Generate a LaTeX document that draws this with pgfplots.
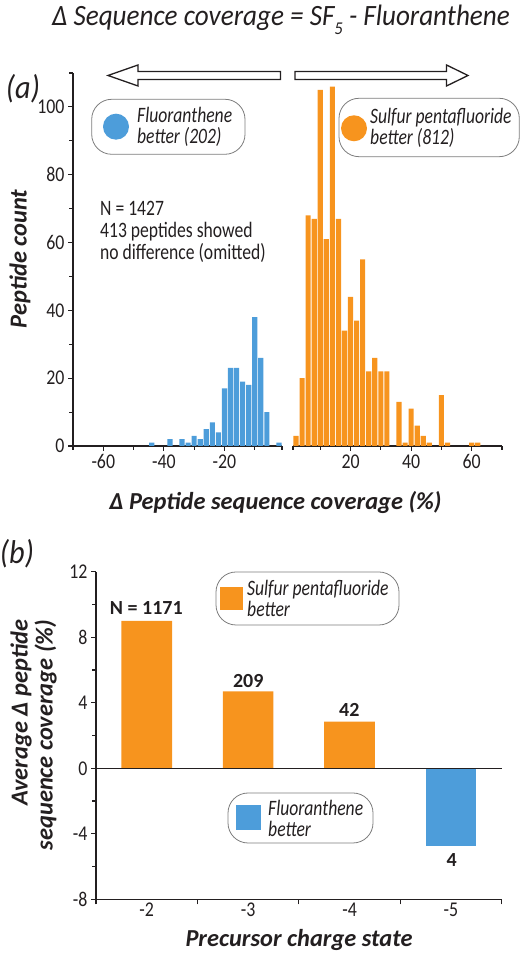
\documentclass[border=0pt]{standalone}
\usepackage{fontspec}
\setmainfont{Carlito}
\newfontfamily\condfont{Carlito}[FakeStretch=0.8]
\newfontfamily\tickfont{Carlito}[FakeStretch=0.85]
\newfontfamily\titlefont{Carlito}[FakeStretch=0.92]
\usepackage{pgfplots}
\pgfplotsset{compat=1.18}
\definecolor{cblue}{RGB}{77,157,218}
\definecolor{corange}{RGB}{247,148,30}
\definecolor{axcol}{RGB}{35,31,32}
\definecolor{boxgray}{RGB}{125,125,125}
\newcommand{\boldlab}{\bfseries\itshape\fontsize{24.4}{25}\selectfont}
\newcommand{\boxtext}{\condfont\itshape\fontsize{22}{21}\selectfont}
\pgfplotsset{
  mystyle/.style={
    scale only axis,
    anchor=south west,
    axis line style={-, line width=1.2pt, axcol},
    tick style={line width=1.1pt, axcol},
    tick align=outside,
    major tick length=5pt,
    minor tick length=4pt,
    /pgf/number format/assume math mode=true,
    ticklabel style={font=\tickfont\fontsize{21}{21}\selectfont, text=axcol},
    clip=false,
  },
}
\begin{document}
\begin{tikzpicture}[x=1pt,y=1pt]
\path[use as bounding box] (0,0) rectangle (520,957);

% ---------- panel (a), left half ----------
\begin{axis}[mystyle, name=aL, at={(73pt,511pt)}, width=209pt, height=373pt,
  xmin=-70, xmax=-1, ymin=0, ymax=110,
  axis x line*=bottom, axis y line*=left,
  xtick={-60,-40,-20}, xticklabels={-60,-40,-20},
  minor xtick={-70,-50,-30,-10,-1},
  ytick={0,20,40,60,80,100}, yticklabels={0,20,40,60,80,100},
  minor ytick={10,30,50,70,90,110},
]
\addplot[ybar, bar width=1.7, bar shift=0pt, fill=cblue, draw=none] coordinates {
(-44,1) (-38,2) (-34,2) (-32,1) (-30,3) (-28,2) (-26,5) (-24,7) (-22,4)
(-20,17) (-18,23) (-16,23) (-14,19) (-12,18) (-10,38) (-8,26) (-6,10) (-2,1)};
\end{axis}

% ---------- panel (a), right half ----------
\begin{axis}[mystyle, name=aR, at={(293pt,511pt)}, width=209pt, height=373pt,
  xmin=1, xmax=70, ymin=0, ymax=110,
  axis x line*=bottom, axis y line=none,
  xtick={20,40,60}, xticklabels={20,40,60},
  minor xtick={1,10,30,50,70},
]
\addplot[ybar, bar width=1.7, bar shift=0pt, fill=corange, draw=none] coordinates {
(2,3) (4,20) (6,68) (8,67) (10,105) (12,61) (14,106) (16,67) (18,34) (20,44)
(22,37) (24,55) (26,22) (28,26) (30,22) (32,22) (36,13) (38,1) (40,11) (42,6)
(44,3) (46,1) (50,15) (52,1) (60,1) (62,1)};
\end{axis}

% title and panel labels
\node[anchor=base, text=axcol] at (281,931)
  {\titlefont\itshape\fontsize{29.5}{30}\selectfont \char"0394\ Sequence coverage = SF\raisebox{-0.28em}{\fontsize{18}{18}\selectfont 5} - Fluoranthene};
\node[text=axcol] at (23,868) {\titlefont\itshape\fontsize{33}{33}\selectfont (a)};
\node[text=axcol] at (17,403.5) {\titlefont\itshape\fontsize{33}{33}\selectfont (b)};

% arrows
\draw[line width=1.3pt, axcol, line join=miter]
  (108,881.5) -- (138,892) -- (138,885.5) -- (280.5,885.5) -- (280.5,877.5) -- (138,877.5) -- (138,871) -- cycle;
\draw[line width=1.3pt, axcol, line join=miter]
  (468,881.5) -- (446.5,892) -- (446.5,885.5) -- (295,885.5) -- (295,877.5) -- (446.5,877.5) -- (446.5,871) -- cycle;

% legend boxes panel (a)
\draw[boxgray, line width=0.8pt, rounded corners=20pt] (91.7,802.7) rectangle (245,857.7);
\fill[cblue] (116,830.3) circle (13);
\node[anchor=west, align=left, inner sep=0pt, text=axcol, font=\boxtext] at (137,830.3) {Fluoranthene\\better (202)};
\draw[boxgray, line width=0.8pt, rounded corners=20pt] (339,800.3) rectangle (519.3,858.7);
\fill[corange] (354,828.7) circle (13);
\node[anchor=west, align=left, inner sep=0pt, text=axcol, font=\boxtext] at (370,828.7) {Sulfur pentafluoride\\better (812)};

% N text
\node[anchor=west, align=left, inner sep=0pt, text=axcol, font=\condfont\fontsize{22}{21.7}\selectfont] at (100,725.3)
  {N = 1427\\413 peptides showed\\no difference (omitted)};

% axis labels panel (a)
\node[rotate=90, text=axcol, font=\boldlab] at (20,698) {Peptide count};
\node[anchor=base, text=axcol, font=\boldlab] at (275.5,447) {\char"0394\ Peptide sequence coverage (\%)};

% ---------- panel (b) ----------
\begin{axis}[mystyle, name=pb, at={(96pt,57.7pt)}, width=405.7pt, height=327.6pt,
  xmin=0.5, xmax=4.5, ymin=-8, ymax=12,
  axis x line*=bottom, axis y line*=left,
  xtick={0.5,1.5,2.5,3.5,4.5}, xticklabels={},
  extra x ticks={1,2,3,4}, extra x tick labels={-2,-3,-4,-5},
  extra x tick style={major tick length=0pt},
  ytick={-8,-4,0,4,8,12}, yticklabels={-8,-4,0,4,8,12},
  minor ytick={-6,-2,2,6,10},
]
\addplot[ybar, bar width=0.5, bar shift=0pt, fill=corange, draw=none] coordinates {(1,9.0) (2,4.7) (3,2.85)};
\addplot[ybar, bar width=0.5, bar shift=0pt, fill=cblue, draw=none] coordinates {(4,-4.75)};
\draw[axcol, line width=1.2pt] (axis cs:0.5,0) -- (axis cs:4.5,0);
\end{axis}

% bar count labels
\node[anchor=base, text=axcol] at (146.3,342) {\bfseries\fontsize{20}{20}\selectfont N = 1171};
\node[anchor=base, text=axcol] at (248.3,269) {\bfseries\fontsize{20}{20}\selectfont 209};
\node[anchor=base, text=axcol] at (349.3,240) {\bfseries\fontsize{20}{20}\selectfont 42};
\node[anchor=base, text=axcol] at (451.7,90) {\bfseries\fontsize{20}{20}\selectfont 4};

% legend boxes panel (b)
\draw[boxgray, line width=0.8pt, rounded corners=20pt] (216,385) rectangle (399,332);
\fill[corange] (220,370) rectangle (243,347);
\node[anchor=west, align=left, inner sep=0pt, text=axcol, font=\boxtext] at (247,358.5) {Sulfur pentafluoride\\better};
\draw[boxgray, line width=0.8pt, rounded corners=20pt] (228,164) rectangle (373,114);
\fill[cblue] (236,152) rectangle (261,127);
\node[anchor=west, align=left, inner sep=0pt, text=axcol, font=\boxtext] at (268,138.5) {Fluoranthene\\better};

% axis labels panel (b)
\node[rotate=90, align=right, text=axcol, font=\boldlab] at (33.5,222) {Average \char"0394\ peptide\\sequence coverage (\%)};
\node[anchor=base, text=axcol, font=\boldlab] at (299,10) {Precursor charge state};

\end{tikzpicture}
\end{document}
